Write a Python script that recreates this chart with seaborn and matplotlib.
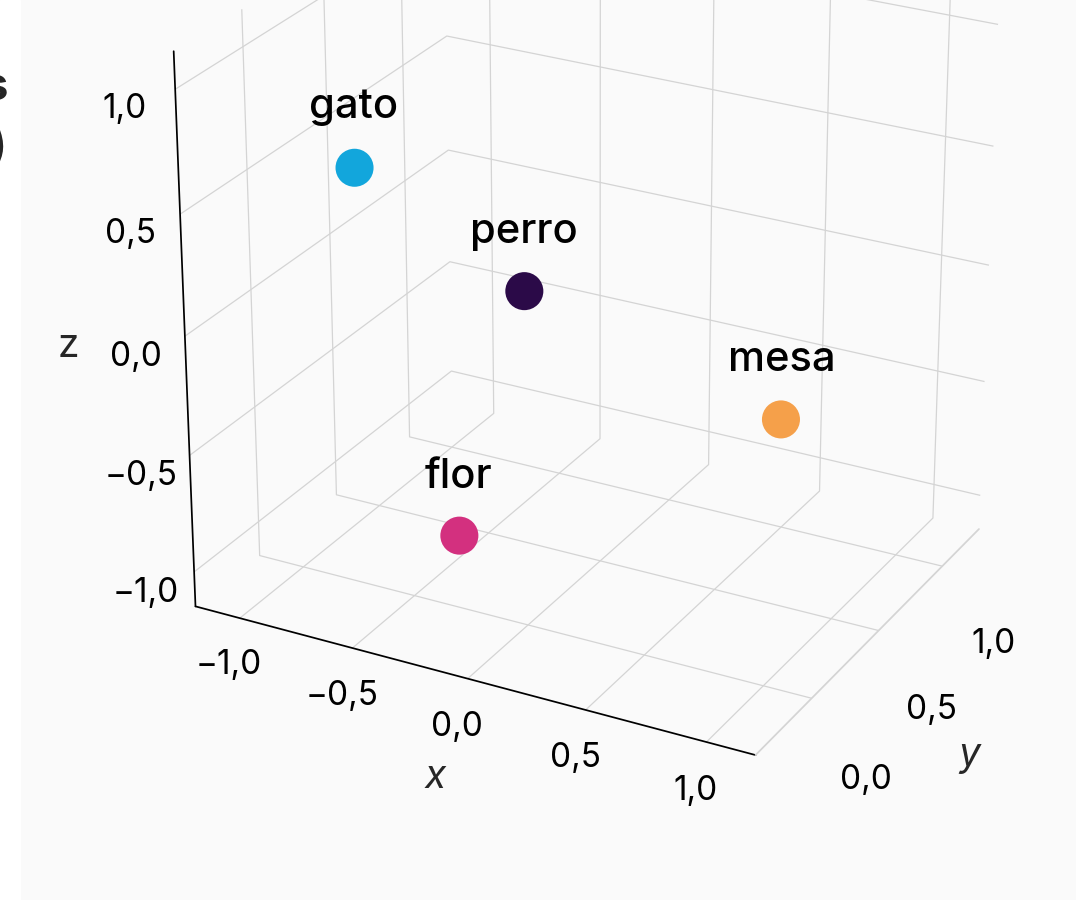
import numpy as np
import pandas as pd
import seaborn as sns
import matplotlib.pyplot as plt
from matplotlib.ticker import FuncFormatter

words = ["gato", "perro", "mesa", "flor"]
x_vals = [-0.79, -0.26, 0.80, -0.27]
y_vals = [0.09, 0.39, 0.45, -0.04]
z_vals = [0.55, 0.01, -0.32, -0.81]
colors = ["#12a6dc", "#2b0a48", "#f5a04a", "#d3307f"]
ticks = [-1.0, -0.5, 0.0, 0.5, 1.0]
y_ticks = [0.0, 0.5, 1.0]

df = pd.DataFrame({"word": words, "x": x_vals, "y": y_vals, "z": z_vals})

sns.set_theme(style="white")
plt.rcParams["font.family"] = ["Inter", "DejaVu Sans"]

bg = "#fafafa"
fig = plt.figure(figsize=(10.76, 9.0), dpi=100, facecolor=bg)
ax = fig.add_axes([0.04, 0.153, 1.0, 1.0], projection="3d")
ax.set_facecolor(bg)

palette = dict(zip(words, colors))
ax.scatter(df["x"], df["y"], df["z"], c=[palette[w] for w in df["word"]],
           s=750, depthshade=False, edgecolors="none", alpha=1)
for _, row in df.iterrows():
    ax.text(row["x"], row["y"], row["z"] + 0.17, row["word"], fontsize=30,
            ha="center", va="bottom", color="black", fontweight="medium")

ax.view_init(elev=25, azim=-62)
ax.set_xlim(-1.2, 1.2)
ax.set_ylim(-0.4, 1.3)
ax.set_zlim(-1.15, 1.15)
ax.set_xticks(ticks)
ax.set_yticks(y_ticks)
ax.set_zticks(ticks)

fmt = FuncFormatter(lambda v, p: f"{v:.1f}".replace(".", ",").replace("-", "\u2212"))
for axis in (ax.xaxis, ax.yaxis, ax.zaxis):
    axis.set_major_formatter(fmt)
    axis.set_pane_color((1, 1, 1, 0))
    axis.pane.set_edgecolor((1, 1, 1, 0))
    axis._axinfo["grid"]["color"] = "#d4d4d4"
    axis._axinfo["grid"]["linewidth"] = 0.9
    axis._axinfo["tick"]["inward_factor"] = 0
    axis._axinfo["tick"]["outward_factor"] = 0
ax.xaxis.line.set_color("black")
ax.zaxis.line.set_color("black")
ax.yaxis.line.set_color("#d4d4d4")
ax.zaxis.set_ticks_position("lower")
ax.zaxis.set_label_position("lower")
ax.tick_params(labelsize=24, colors="black")
ax.tick_params(axis="x", pad=6)
ax.tick_params(axis="y", pad=24)
ax.tick_params(axis="z", pad=12)

ax.set_xlabel("x", fontsize=28, fontstyle="italic", labelpad=22)
ax.set_ylabel("y", fontsize=28, fontstyle="italic", labelpad=38)
ax.set_zlabel("z", fontsize=28, labelpad=26)

ax.set_box_aspect((1.2, 1.0, 1.15), zoom=1.1)

# cropped title fragment on the left edge
fig.patches.append(plt.Rectangle((0, 0), 20 / 1076, 1, transform=fig.transFigure,
                                 color="white", zorder=0))
fig.text(8 / 1076, 1 - 100 / 900, "Palabras", fontsize=32, fontweight="bold",
         ha="right", va="baseline")
fig.text(8 / 1076, 1 - 160 / 900, "(3D)", fontsize=32, ha="right", va="baseline")

fig.savefig("out.png", dpi=100, facecolor=bg)
